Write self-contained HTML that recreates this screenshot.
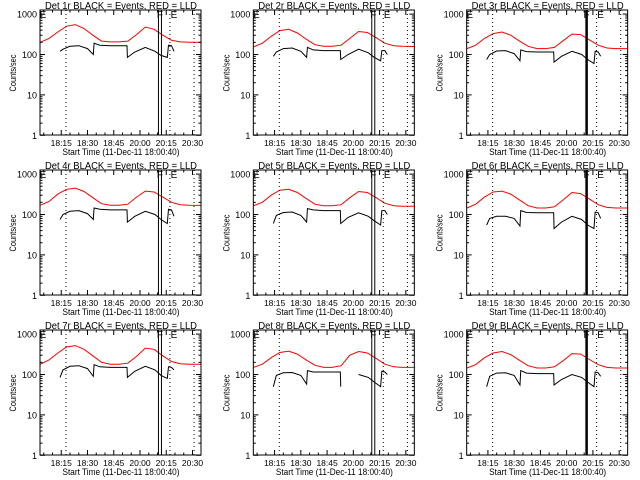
<!DOCTYPE html>
<html><head><meta charset="utf-8"><style>
html,body{margin:0;padding:0;background:#fff;}
svg{display:block;font-family:"Liberation Sans",sans-serif;}
</style></head><body>
<svg id="c" width="640" height="480" viewBox="0 0 640 480" xmlns="http://www.w3.org/2000/svg"></svg>
<script>
const panelLabels = ["1r","2r","3r","4r","5r","6r","7r","8r","9r"];
const yTicks = [1,10,100,1000];
const yTickLabels = ["1","10","100","1000"];
const xTickMins = [15,30,45,60,75,90];
const xTickLabels = ["18:15","18:30","18:45","20:00","20:15","20:30"];
const dottedMins = [17.7,77.1,90.9];
const barMin = 71.4;
const redT = [3,8,13,18,23,28,33,38,43,48,53,58,63,68,73,78,83,88,95];
const red1 = [200,250,360,500,550,440,300,215,205,205,215,310,480,420,300,225,205,202,200];
const red2 = [155,190,280,390,420,340,240,175,160,160,170,250,370,350,260,190,165,160,158];
const red3 = [140,170,250,330,360,300,215,160,140,140,150,220,320,310,230,170,145,140,140];
const red4 = [170,210,320,420,450,370,260,185,170,170,180,270,380,360,270,200,175,170,168];
const red5 = [165,200,300,400,420,350,250,180,165,165,175,260,370,350,260,190,165,160,160];
const red6 = [145,180,270,360,380,320,230,165,145,145,155,230,350,330,240,175,150,145,145];
const red7 = [180,230,340,480,520,420,290,200,180,180,190,280,450,420,290,210,185,180,180];
const red8 = [150,180,260,350,380,320,230,170,150,150,165,300,370,340,250,180,155,150,150];
const red9 = [145,175,260,340,370,310,225,165,145,145,155,220,330,320,235,175,150,145,145];
const blackT = [14.3,16,20,25,30,33.3,33.8,37,43,52.6,52.8,57,63,68.6,72,75.6,76.3,78,79.4];
const blk1 = [120,135,160,165,140,100,190,170,165,165,85,115,150,120,95,85,170,165,120];
const blk2 = [90,115,140,145,120,85,150,130,125,125,75,100,135,110,85,70,125,125,100];
const blk3 = [75,100,122,125,105,70,130,118,115,115,65,90,120,100,75,60,120,115,90];
const blk4 = [75,100,120,125,105,75,145,135,130,130,65,90,120,100,75,60,135,130,90];
const blk5 = [60,95,112,115,95,65,140,130,125,125,60,85,110,90,70,55,125,125,100];
const blk6 = [55,80,90,90,80,52,125,112,110,110,45,65,90,75,55,45,115,110,80];
const blk7 = [85,130,160,165,140,90,175,155,150,150,85,120,160,130,95,80,155,150,130];
const blk8 = [50,95,110,112,95,58,125,115,115,115,50,null,100,85,65,50,120,115,100];
const blk9 = [50,90,108,110,95,55,125,108,105,105,55,75,100,85,65,50,115,110,90];
const reds = [red1,red2,red3,red4,red5,red6,red7,red8,red9];
const blacks = [blk1,blk2,blk3,blk4,blk5,blk6,blk7,blk8,blk9];
const thickBar = [false,false,true,false,false,true,false,false,true];

const NS="http://www.w3.org/2000/svg";
const svg=document.getElementById('c');
function el(tag,attrs,parent,txt){const e=document.createElementNS(NS,tag);for(const k in attrs)e.setAttribute(k,attrs[k]);if(txt!==undefined)e.textContent=txt;parent.appendChild(e);return e;}

for(let p=0;p<9;p++){
  const ox=(p%3)*213.33, oy=Math.floor(p/3)*160;
  const g=el('g',{transform:`translate(${ox.toFixed(2)},${oy})`},svg);
  
  
  const L=40,R=201,T=10,B=135;
  const xs=t=>35+1.75*t;
  const ys=v=>135.3-40.4*Math.log10(v);
  const t1=el('text',{x:121,y:9,'text-anchor':'middle','font-size':10,textLength:152,lengthAdjust:'spacingAndGlyphs'},g,`Det ${panelLabels[p]} BLACK = Events, RED = LLD`);
  
  
  const mkPath=(T,V)=>{let d='',pen=false;for(let i=0;i<T.length;i++){if(V[i]==null){pen=false;continue;}d+=(pen?'L':'M')+xs(T[i]).toFixed(1)+','+ys(V[i]).toFixed(1);pen=true;}return d;};
  const rp=el('path',{d:mkPath(redT,reds[p]),fill:'none',stroke:'#f00','stroke-width':1},g);
  
  
  const bp=el('path',{d:mkPath(blackT,blacks[p]),fill:'none',stroke:'#000','stroke-width':1},g);
  
  
  dottedMins.forEach(m=>{const l=el('line',{x1:xs(m),x2:xs(m),y1:T,y2:B,stroke:'#000','stroke-width':1,'stroke-dasharray':'1,3'},g);
    
    });
  const bx=xs(barMin);
  if(thickBar[p]){const l=el('line',{x1:bx,x2:bx,y1:T,y2:B,stroke:'#000','stroke-width':2.5},g);
    
    }
  else{[bx-1.5,bx+1.5].forEach(x=>{const l=el('line',{x1:x,x2:x,y1:T,y2:B,stroke:'#000','stroke-width':1},g);
    
    });}
  [[44,'E'],[bx+1,'F'],[xs(dottedMins[1])+5,'E']].forEach(([x,s])=>{const t=el('text',{x:x-1,y:18,'text-anchor':'middle','font-size':10},g,s);
    
    });
  const box=el('rect',{x:L,y:T,width:R-L,height:B-T,fill:'none',stroke:'#000','stroke-width':1},g);
  
  
  yTicks.forEach((v,i)=>{const y=ys(v);
    el('line',{x1:L,x2:L+5,y1:y,y2:y,stroke:'#000'},g);el('line',{x1:R,x2:R-5,y1:y,y2:y,stroke:'#000'},g);
    const t=el('text',{x:37,y:y+3.5,'text-anchor':'end','font-size':9},g,yTickLabels[i]);
    
    
    if(v<1000)for(let k=2;k<10;k++){const yy=ys(v*k);if(yy<T)continue;el('line',{x1:L,x2:L+2.5,y1:yy,y2:yy,stroke:'#000'},g);el('line',{x1:R,x2:R-2.5,y1:yy,y2:yy,stroke:'#000'},g);}
  });
  xTickMins.forEach((m,i)=>{const x=xs(m);
    el('line',{x1:x,x2:x,y1:B,y2:B-5,stroke:'#000'},g);el('line',{x1:x,x2:x,y1:T,y2:T+5,stroke:'#000'},g);
    const t=el('text',{x:x,y:146,'text-anchor':'middle','font-size':8.5},g,xTickLabels[i]);
    
    });
  for(let m=5;m<95;m+=5){if(m%15===0)continue;const x=xs(m);el('line',{x1:x,x2:x,y1:B,y2:B-2.5,stroke:'#000'},g);el('line',{x1:x,x2:x,y1:T,y2:T+2.5,stroke:'#000'},g);}
  const xt=el('text',{x:121,y:155,'text-anchor':'middle','font-size':9.5,textLength:117,lengthAdjust:'spacingAndGlyphs'},g,'Start Time (11-Dec-11 18:00:40)');
  
  
  const yt=el('text',{x:0,y:0,'text-anchor':'middle','font-size':9,transform:'translate(16,73) rotate(-90)',textLength:37,lengthAdjust:'spacingAndGlyphs'},g,'Counts/sec');
  
  
}
</script>
</body></html>
